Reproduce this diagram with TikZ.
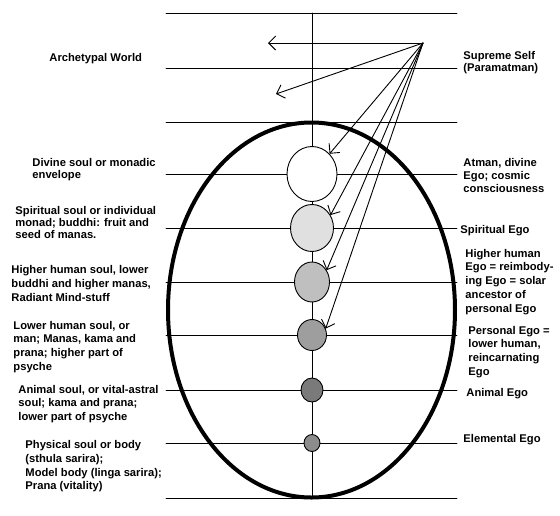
\documentclass[tikz,border=0pt]{standalone}
\usepackage{fontspec}
\setmainfont{Liberation Sans}
\usetikzlibrary{arrows.meta,shapes.geometric}

\begin{document}
\begin{tikzpicture}[x=1pt, y=-1pt, line join=round, line cap=round, line width=0.9pt,
    font=\bfseries\fontsize{11.2}{13.8}\selectfont, >={Straight Barb[length=7pt, width=14pt]},
    soul/.style={draw, ellipse, inner sep=0pt, line width=0.9pt},
    lbl/.style={anchor=north west, align=left, inner sep=0pt}]
    \useasboundingbox (0,0) rectangle (560,515);
    %%%%%%%%%%%%%%%%%%%%%%%%%%%%%%%%%
    \foreach \y in {13,68,122,174,228,282,335,390,443,498}
        \draw (166,\y) -- (457,\y);
    \draw (312,13) -- (312,498);
    \draw[line width=4pt] (311.5,310) ellipse [x radius=143.5pt, y radius=187.5pt];
    %%%%%%%%%%%%%%%%%%%%%%%%%%%%%%%%%
    \node[soul, fill=white, minimum width=50pt, minimum height=55pt] (c1) at (312,174) {};
    \node[soul, fill=black!12, minimum width=43pt, minimum height=47pt] (c2) at (312,228) {};
    \node[soul, fill=black!25, minimum width=35pt, minimum height=40pt] (c3) at (312,282) {};
    \node[soul, fill=black!38, minimum width=29pt, minimum height=31pt] (c4) at (312,335) {};
    \node[soul, fill=black!52, minimum width=22pt, minimum height=24pt] (c5) at (312,390) {};
    \node[soul, fill=black!45, minimum width=16pt, minimum height=17pt] (c6) at (312,443) {};
    %%%%%%%%%%%%%%%%%%%%%%%%%%%%%%%%%
    \coordinate (src) at (423,43);
    \coordinate (w1) at (268,43);
    \coordinate (w2) at (276,94);
    \draw[->] (src) -- (w1);
    \draw[->] (src) -- (w2);
    \draw[->] (src) -- (c1.49);
    \draw[->] (src) -- (c2.35);
    \draw[->] (src) -- (c3.39);
    \draw[->] (src) -- (c4.25);
    %%%%%%%%%%%%%%%%%%%%%%%%%%%%%%%%%
    \node[lbl] (arch) at (49,52.5) {Archetypal World};
    \node[lbl, font=\bfseries\fontsize{11.2}{12.7}\selectfont] (divine) at (32,157.5) {Divine soul or monadic\\envelope};
    \node[lbl, font=\bfseries\fontsize{11.2}{12}\selectfont] (spirit) at (15,205.5) {Spiritual soul or individual\\monad; buddhi: fruit and\\seed of manas.};
    \node[lbl] (higher) at (11,265) {Higher human soul, lower\\buddhi and higher manas,\\Radiant Mind-stuff};
    \node[lbl] (lower) at (13,320.5) {Lower human soul, or\\man; Manas, kama and\\prana; higher part of\\psyche};
    \node[lbl] (animal) at (18,384.5) {Animal soul, or vital-astral\\soul; kama and prana;\\lower part of psyche};
    \node[lbl] (physical) at (25,440) {Physical soul or body\\(sthula sarira);\\Model body (linga sarira);\\Prana (vitality)};
    %%%%%%%%%%%%%%%%%%%%%%%%%%%%%%%%%
    \node[lbl, font=\bfseries\fontsize{11.2}{12.5}\selectfont] (supreme) at (463,50.5) {Supreme Self\\(Paramatman)};
    \node[lbl, font=\bfseries\fontsize{11.2}{13}\selectfont] (atman) at (463,157.5) {Atman, divine\\Ego; cosmic\\consciousness};
    \node[lbl] (spego) at (460,224.5) {Spiritual Ego};
    \node[lbl] (hhego) at (465,248.5) {Higher human\\Ego = reimbody-\\ing Ego = solar\\ancestor of\\personal Ego};
    \node[lbl] (persego) at (468,325.5) {Personal Ego =\\lower human,\\reincarnating\\Ego};
    \node[lbl] (anego) at (466,387.5) {Animal Ego};
    \node[lbl] (elego) at (463,433.5) {Elemental Ego};
    %%%%%%%%%%%%%%%%%%%%%%%%%%%%%%%%%
\end{tikzpicture}
\end{document}
